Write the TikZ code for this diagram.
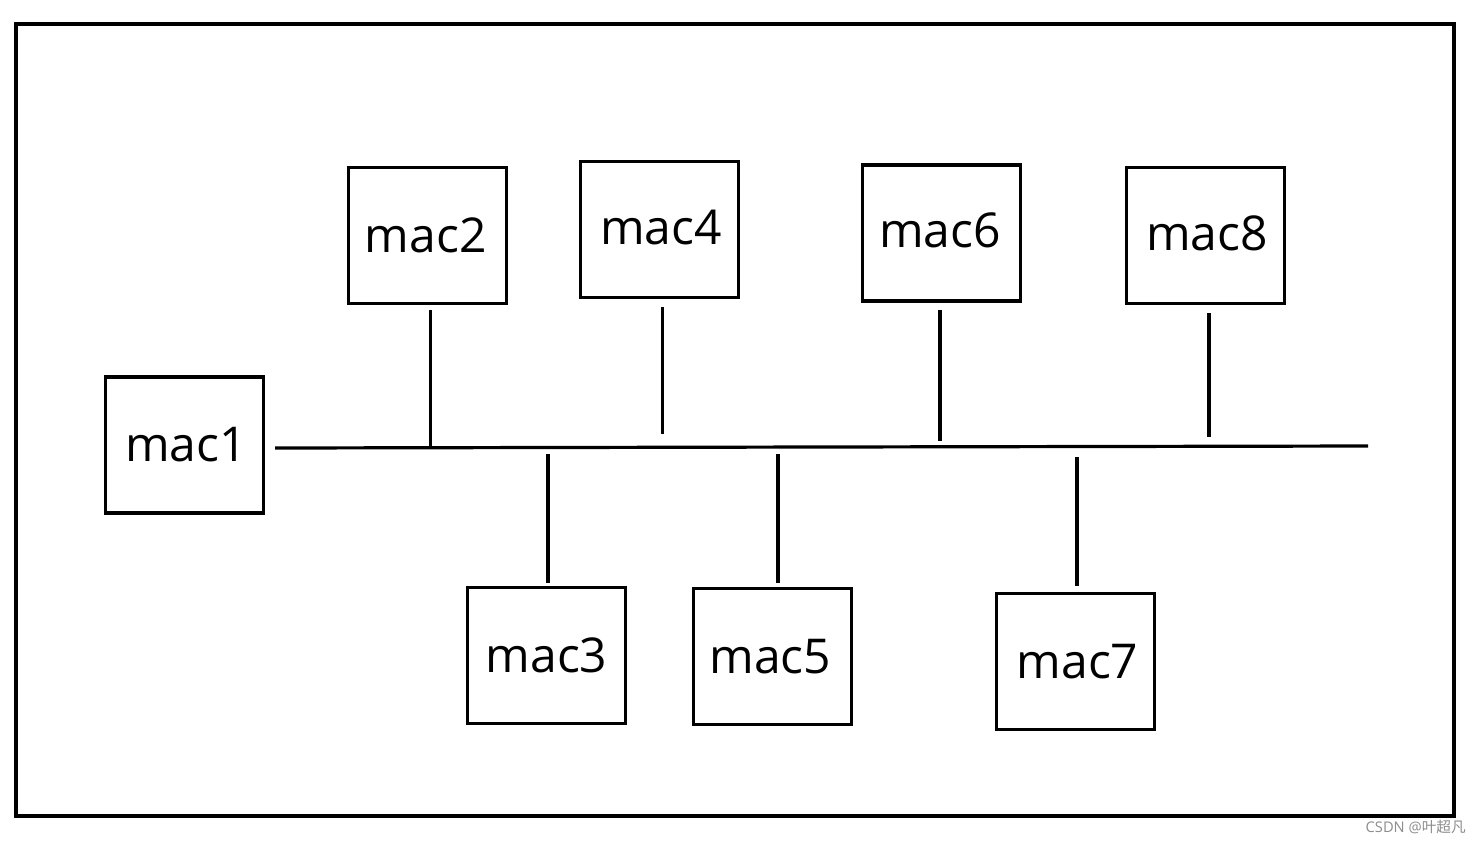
\documentclass[tikz,border=0pt]{standalone}
\usepackage{fontspec}
\setmainfont{Open Sans}
\newfontfamily\cjkfont{Noto Sans CJK SC}
\newcommand{\shifttext}[3]{\kern#1\raisebox{#2}{#3}\kern-#1}
\begin{document}
\begin{tikzpicture}[x=0.75pt,y=-0.75pt,
  macbox/.style={draw=black,line width=2.5pt,minimum width=118.5pt,minimum height=102pt,inner sep=0pt,font=\fontsize{36}{42}\selectfont},
  conn/.style={line width=2.4pt}]
\useasboundingbox[fill=white] (0,0) rectangle (1481,844);
\draw[line width=3.2pt] (16,24) rectangle (1454,816);
\node[macbox] (m1) at (184.5,445) {\shifttext{1pt}{1pt}{mac1}};
\node[macbox] (m2) at (427.5,235.5) {\shifttext{-1.3pt}{0pt}{mac2}};
\node[macbox] (m4) at (659.5,229.5) {\shifttext{1pt}{3pt}{mac4}};
\node[macbox] (m6) at (941.5,233) {\shifttext{-1pt}{4.5pt}{mac6}};
\node[macbox] (m8) at (1205.5,235.5) {\shifttext{1pt}{3pt}{mac8}};
\node[macbox] (m3) at (546.5,655.5) {mac3};
\node[macbox] (m5) at (772.5,656.5) {\shifttext{-1.6pt}{0pt}{mac5}};
\node[macbox] (m7) at (1075.5,661.5) {\shifttext{1.5pt}{0pt}{mac7}};
\coordinate (busL) at (275,448);
\coordinate (busR) at (1368,446);
\draw[conn] (busL) -- (busR);
\draw[conn] ([xshift=2.25pt,yshift=-3.75pt]m2.south) -- ++(0,136);
\draw[conn] ([xshift=2.25pt,yshift=-6pt]m4.south) -- ++(0,127);
\draw[conn] ([xshift=-1.1pt,yshift=-5.25pt]m6.south) -- ++(0,131);
\draw[conn] ([xshift=2.6pt,yshift=-6pt]m8.south) -- ++(0,124);
\draw[conn] ([xshift=1.1pt,yshift=2.25pt]m3.north) -- ++(0,-129);
\draw[conn] ([xshift=4.1pt,yshift=3pt]m5.north) -- ++(0,-129);
\draw[conn] ([xshift=1.1pt,yshift=4.5pt]m7.north) -- ++(0,-129);
\node[anchor=east,text=black!45,font=\fontsize{11}{13}\selectfont,inner sep=0pt] (wm) at (1466,827) {CSDN @{\cjkfont 叶超凡}};
\end{tikzpicture}
\end{document}
